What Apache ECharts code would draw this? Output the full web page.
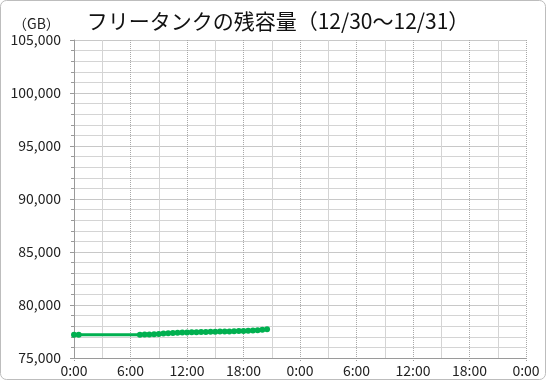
<!DOCTYPE html>
<html><head><meta charset="utf-8">
<script src="https://cdn.jsdelivr.net/npm/echarts@6/dist/echarts.min.js"></script>
<style>html,body{margin:0;padding:0;background:#fff}#c{width:546px;height:380px}</style>
</head><body><div id="c"></div>
<script>
const titleText = 'フリータンクの残容量（12/30～12/31）';
const unitLabel = '（GB）';
const hours = [0, 0.5, 7, 7.5, 8, 8.5, 9, 9.5, 10, 10.5, 11, 11.5, 12, 12.5, 13, 13.5, 14, 14.5, 15, 15.5, 16, 16.5, 17, 17.5, 18, 18.5, 19, 19.5, 20, 20.5];
const capacity = [77200, 77200, 77200, 77210, 77220, 77240, 77270, 77310, 77340, 77370, 77380, 77400, 77400, 77420, 77430, 77450, 77460, 77470, 77480, 77490, 77500, 77510, 77520, 77540, 77550, 77570, 77590, 77620, 77660, 77720];

const chart = echarts.init(document.getElementById('c'), null, {renderer: 'canvas'});
const font = '"Noto Sans CJK JP", "Noto Sans", sans-serif';
chart.setOption({
  animation: false,
  backgroundColor: '#fff',
  title: {
    text: titleText, left: 273, top: 6, textAlign: 'center',
    textStyle: {fontFamily: font, fontSize: 21, fontWeight: 'normal', color: '#111'}
  },
  graphic: [
    {type: 'rect', shape: {x: 0.5, y: 0.5, width: 545, height: 379, r: 6},
     style: {fill: 'none', stroke: '#bdbdbd', lineWidth: 1}, silent: true},
    {type: 'text', left: 13, top: 17,
     style: {text: unitLabel, font: '14px ' + font, fill: '#222'}}
  ],
  grid: {left: 74, top: 40, width: 452, height: 318, containLabel: false},
  xAxis: {
    type: 'value', min: 0, max: 48, interval: 6,
    axisLine: {show: true, lineStyle: {color: '#9a9a9a', width: 1}},
    axisTick: {show: true, length: 4, lineStyle: {color: '#9a9a9a', type: 'dotted'}},
    axisLabel: {fontFamily: font, fontSize: 14, color: '#222', margin: 6,
      formatter: v => (v % 24) + ':00'},
    splitLine: {show: true, lineStyle: {color: '#a8a8a8', type: 'dotted', width: 1}},
    minorTick: {show: false, splitNumber: 2},
    minorSplitLine: {show: true, lineStyle: {color: '#d4d4d4', width: 1}}
  },
  yAxis: {
    type: 'value', min: 75000, max: 105000, interval: 5000,
    axisLine: {show: true, lineStyle: {color: '#9a9a9a', width: 1}},
    axisTick: {show: true, length: 4, lineStyle: {color: '#9a9a9a'}},
    minorTick: {show: true, splitNumber: 5, length: 3, lineStyle: {color: '#9a9a9a'}},
    axisLabel: {fontFamily: font, fontSize: 14, color: '#222', margin: 13,
      formatter: v => v.toLocaleString('en-US')},
    splitLine: {show: true, lineStyle: {color: '#c8c8c8', width: 1}},
    minorSplitLine: {show: true, lineStyle: {color: '#d4d4d4', width: 1}}
  },
  series: [{
    type: 'line',
    data: hours.map((h, i) => [h, capacity[i]]),
    symbol: 'circle', symbolSize: 6, showSymbol: true,
    itemStyle: {color: '#00b050'},
    lineStyle: {color: '#00b050', width: 3}
  }]
});
</script></body></html>
